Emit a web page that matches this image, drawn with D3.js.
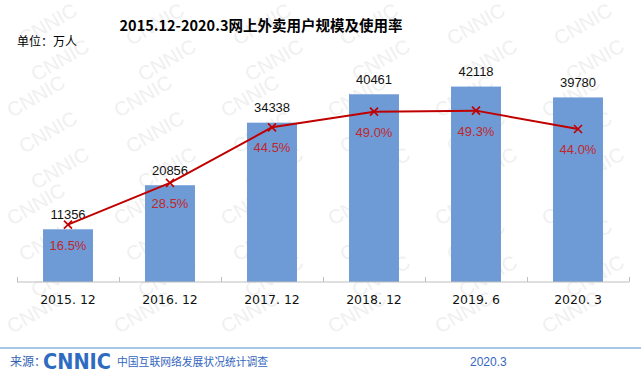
<!DOCTYPE html>
<html><head><meta charset="utf-8">
<script src="https://cdn.jsdelivr.net/npm/d3@7"></script>
<style>body{margin:0;background:#fff;}svg{display:block;}</style>
</head><body>
<script>
const categories = ["2015. 12","2016. 12","2017. 12","2018. 12","2019. 6","2020. 3"];
const users = [11356, 20856, 34338, 40461, 42118, 39780];
const rates = [16.5, 28.5, 44.5, 49.0, 49.3, 44.0];
const rateLabels = ["16.5%","28.5%","44.5%","49.0%","49.3%","44.0%"];

const W = 641, H = 383;
const svg = d3.select("body").append("svg").attr("width", W).attr("height", H);
const font = "'Liberation Sans', Arial, 'Noto Sans CJK SC', sans-serif";
const cjk = "'Noto Sans CJK SC', sans-serif";

// watermark (kept fully inside the picture)
const wm = svg.append("g").attr("fill", "#f0f0f0").attr("font-family", font).attr("font-size", 20);
for (let r = -4; r < 16; r++) {
  for (let c = -1; c < 8; c++) {
    const wx = c * 107 + (((r % 3) + 3) % 3) * 12 + 12;
    const wy = r * 36 + 10;
    if (wx < 12 || wx + 58 > W - 1 || wy - 36 < 1 || wy + 4 > 340) continue;
    wm.append("text").attr("transform", `translate(${wx},${wy}) rotate(-30)`).text("CNNIC");
  }
}

const x = d3.scaleBand().domain(categories).range([17, 629]).paddingInner(0.51).paddingOuter(0.255);
const y = d3.scaleLinear().domain([0, 50000]).range([282, 50]);
const y2 = d3.scaleLinear().domain([0, 70]).range([282, 282 - 70 * 3.476]);

// bars
svg.append("g").selectAll("rect").data(users).join("rect")
  .attr("x", (d, i) => x(categories[i])).attr("width", x.bandwidth())
  .attr("y", d => y(d)).attr("height", d => y(0) - y(d))
  .attr("fill", "#6e9bd6");

// axis
const axis = d3.axisBottom(d3.scaleLinear().domain([0, 6]).range([17, 629])).ticks(6).tickSize(5).tickFormat("");
const ag = svg.append("g").attr("transform", "translate(0,282)").call(axis);
ag.select(".domain").attr("stroke", "#bfbfbf").attr("d", "M17,0H629");
ag.selectAll(".tick line").attr("stroke", "#bfbfbf").attr("y2", -5);
svg.append("g").selectAll("text").data(categories).join("text")
  .attr("x", d => x(d) + x.bandwidth() / 2).attr("y", 304)
  .attr("text-anchor", "middle").attr("font-family", "'DejaVu Sans', sans-serif").attr("font-size", 12.5)
  .attr("fill", "#111").text(d => d);

// value labels
svg.append("g").selectAll("text").data(users).join("text")
  .attr("x", (d, i) => x(categories[i]) + x.bandwidth() / 2).attr("y", d => y(d) - 10.5)
  .attr("text-anchor", "middle").attr("font-family", font).attr("font-size", 13)
  .attr("fill", "#111").text(d => d);

// line
const cx = i => x(categories[i]) + x.bandwidth() / 2;
const line = d3.line().x((d, i) => cx(i)).y(d => y2(d));
svg.append("path").datum(rates).attr("d", line).attr("fill", "none").attr("stroke", "#c00000").attr("stroke-width", 2);
const mk = svg.append("g").attr("stroke", "#c00000").attr("stroke-width", 1.6);
rates.forEach((d, i) => {
  const px = cx(i), py = y2(d), s = 4;
  mk.append("path").attr("d", `M${px - s},${py - s}L${px + s},${py + s}M${px - s},${py + s}L${px + s},${py - s}`);
});
svg.append("g").selectAll("text").data(rates).join("text")
  .attr("x", (d, i) => cx(i)).attr("y", d => y2(d) + 25)
  .attr("text-anchor", "middle").attr("font-family", font).attr("font-size", 13)
  .attr("fill", "#c0272d").text((d, i) => rateLabels[i]);

// title
svg.append("text").attr("x", 261).attr("y", 31).attr("text-anchor", "middle")
  .attr("font-family", cjk).attr("font-weight", "bold").attr("font-size", 14.5).attr("fill", "#000")
  .text("2015.12-2020.3网上外卖用户规模及使用率");
svg.append("text").attr("x", 17).attr("y", 46).attr("font-family", cjk).attr("font-size", 12).attr("fill", "#000").text("单位：万人");

// footer
svg.append("line").attr("x1", 0).attr("x2", W).attr("y1", 348).attr("y2", 348).attr("stroke", "#8db3e2").attr("stroke-width", 1.5);
svg.append("text").attr("x", 10).attr("y", 366).attr("font-family", cjk).attr("font-size", 12).attr("fill", "#2f62b3").text("来源：");
svg.append("text").attr("x", 43).attr("y", 369).attr("font-family", "'DejaVu Sans', sans-serif").attr("font-weight", "bold")
  .attr("font-size", 21).attr("fill", "#2d6cc0").attr("textLength", 68).attr("lengthAdjust", "spacingAndGlyphs").text("CNNIC");
svg.append("text").attr("x", 117).attr("y", 366).attr("font-family", cjk).attr("font-size", 10.8).attr("fill", "#3466c0").text("中国互联网络发展状况统计调查");
svg.append("text").attr("x", 470).attr("y", 366).attr("font-family", font).attr("font-size", 12).attr("fill", "#3466c0").text("2020.3");
</script>
</body></html>
